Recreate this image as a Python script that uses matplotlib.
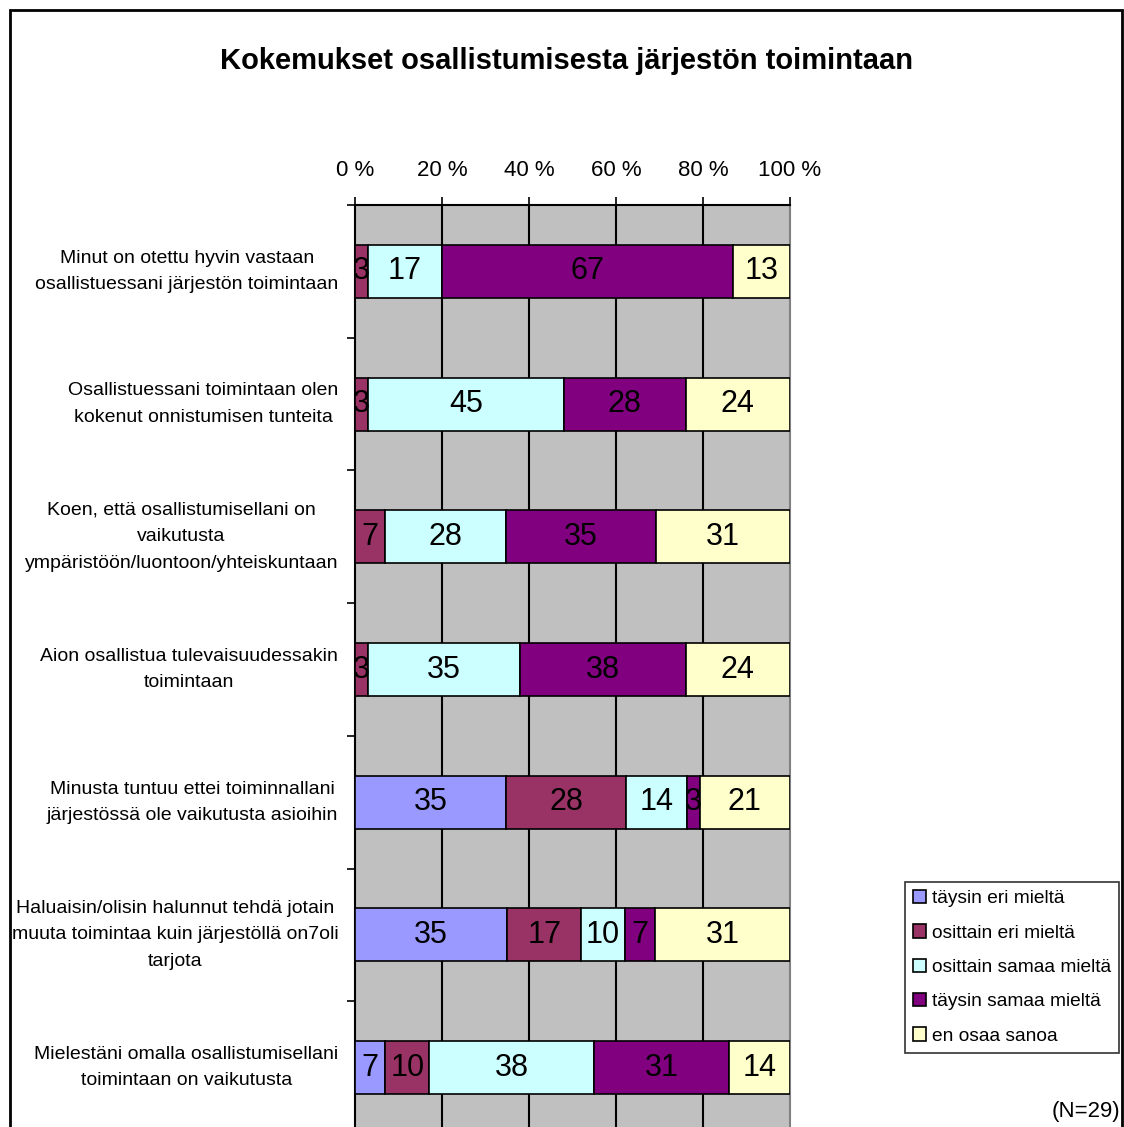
import numpy as np
import matplotlib
matplotlib.use('Agg')
import matplotlib.pyplot as plt
from matplotlib.patches import Patch, Rectangle

plt.rcParams['font.family'] = ['Liberation Sans', 'DejaVu Sans']

# Survey statements (top to bottom)
statements = [
    'Minut on otettu hyvin vastaan\nosallistuessani järjestön toimintaan',
    'Osallistuessani toimintaan olen\nkokenut onnistumisen tunteita',
    'Koen, että osallistumisellani on\nvaikutusta\nympäristöön/luontoon/yhteiskuntaan',
    'Aion osallistua tulevaisuudessakin\ntoimintaan',
    'Minusta tuntuu ettei toiminnallani\njärjestössä ole vaikutusta asioihin',
    'Haluaisin/olisin halunnut tehdä jotain\nmuuta toimintaa kuin järjestöllä on7oli\ntarjota',
    'Mielestäni omalla osallistumisellani\ntoimintaan on vaikutusta',
]
answers = ['täysin eri mieltä', 'osittain eri mieltä', 'osittain samaa mieltä',
           'täysin samaa mieltä', 'en osaa sanoa']
colors = ['#9999FF', '#993366', '#CCFFFF', '#800080', '#FFFFCC']

# percentages per answer, one value per statement
taysin_eri = [0, 0, 0, 0, 35, 35, 7]
osittain_eri = [3, 3, 7, 3, 28, 17, 10]
osittain_samaa = [17, 45, 28, 35, 14, 10, 38]
taysin_samaa = [67, 28, 35, 38, 3, 7, 31]
en_osaa = [13, 24, 31, 24, 21, 31, 14]
xticks = [0, 20, 40, 60, 80, 100]

vals = np.array([taysin_eri, osittain_eri, osittain_samaa, taysin_samaa, en_osaa], dtype=float)
shares = vals / vals.sum(axis=0) * 100  # 100 % stacked like Excel

W, H = 1124, 1127
fig = plt.figure(figsize=(W / 100, H / 100), dpi=100)

# outer chart border
fig.patches.append(Rectangle((10 / W, -0.05), 1112 / W, 1.05 - 10 / H, transform=fig.transFigure,
                             fill=False, edgecolor='black', linewidth=2))

ax = fig.add_axes([355 / W, (H - 1134) / H, 435 / W, 929 / H])
ax.set_facecolor('#C0C0C0')
y = np.arange(len(statements))
left = np.zeros(len(statements))
for k in range(len(answers)):
    ax.barh(y, shares[k], left=left, height=0.4, color=colors[k], edgecolor='black',
            linewidth=1.2, label=answers[k], zorder=3)
    for i in range(len(statements)):
        if vals[k, i] > 0:
            ax.text(left[i] + shares[k, i] / 2, y[i], f'{int(vals[k, i])}', ha='center', va='center',
                    fontsize=22, color='black', zorder=4)
    left += shares[k]

ax.set_xlim(0, 100)
ax.set_ylim(len(statements) - 0.5, -0.5)
ax.xaxis.tick_top()
ax.set_xticks(xticks)
ax.set_xticklabels([f'{t} %' for t in xticks], fontsize=16)
ax.tick_params(axis='x', direction='out', length=6, width=1.2, pad=11)
for t in xticks[1:-1]:
    ax.axvline(t, color='black', linewidth=1.5, zorder=1)

ax.set_yticks(y)
ax.set_yticklabels(statements, fontsize=14, linespacing=1.72, va='center')
for lbl in ax.get_yticklabels():
    lbl.set_multialignment('center')
ax.tick_params(axis='y', which='major', length=0, pad=12)
ax.set_yticks(np.arange(-0.5, len(statements), 1), minor=True)
ax.tick_params(axis='y', which='minor', direction='out', length=6, width=1.2)

ax.spines['bottom'].set_visible(False)
ax.spines['right'].set_color('#808080')
ax.spines['right'].set_linewidth(1.5)
ax.spines['left'].set_linewidth(1.5)
ax.spines['top'].set_linewidth(1.5)

fig.text(566 / W, 1 - 61 / H, 'Kokemukset osallistumisesta järjestön toimintaan', ha='center', va='center',
         fontsize=21, fontweight='bold')

handles = [Patch(facecolor=c, edgecolor='black', linewidth=1.2) for c in colors]
leg = fig.legend(handles, answers, loc='upper left', bbox_to_anchor=(905 / W, 1 - 882 / H),
                 fontsize=13.8, frameon=True, fancybox=False, handlelength=0.7, handleheight=0.7,
                 handletextpad=0.3, labelspacing=0.88, borderpad=0.42, borderaxespad=0)
leg.get_frame().set_edgecolor('black')
leg.get_frame().set_linewidth(1.2)

fig.text(1120 / W, 1 - 1112 / H, '(N=29)', ha='right', va='center', fontsize=16)

fig.savefig('out.png', dpi=100)
